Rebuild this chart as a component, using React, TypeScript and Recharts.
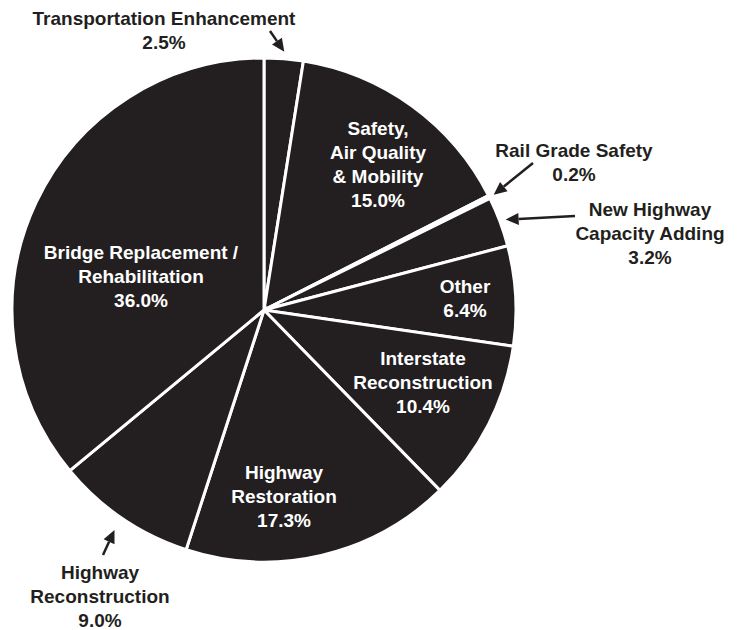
import { PieChart, Pie, Cell } from "recharts";

document.body.style.margin = "0";

const categories = [
  "Transportation Enhancement",
  "Safety, Air Quality & Mobility",
  "Rail Grade Safety",
  "New Highway Capacity Adding",
  "Other",
  "Interstate Reconstruction",
  "Highway Restoration",
  "Highway Reconstruction",
  "Bridge Replacement / Rehabilitation",
];

const shares = [2.5, 15.0, 0.2, 3.2, 6.4, 10.4, 17.3, 9.0, 36.0];

const labelLines = [
  ["Transportation Enhancement"],
  ["Safety,", "Air Quality", "& Mobility"],
  ["Rail Grade Safety"],
  ["New Highway", "Capacity Adding"],
  ["Other"],
  ["Interstate", "Reconstruction"],
  ["Highway", "Restoration"],
  ["Highway", "Reconstruction"],
  ["Bridge Replacement /", "Rehabilitation"],
];

const data = categories.map((name, i) => ({ name, value: shares[i] }));

const DARK = "#231f20";
const FONT = "'Liberation Sans', Arial, Helvetica, sans-serif";
const LINE_H = 24;

// text block position relative to pie centre; arrow tail offset + gap past the rim
type Layout = {
  dx: number;
  dy: number;
  inside: boolean;
  arrow?: { tx: number; ty: number; gap: number };
};

const layout: Layout[] = [
  { dx: -100, dy: -292, inside: false, arrow: { tx: 6, ty: -279, gap: 7 } },
  { dx: 114, dy: -182, inside: true },
  { dx: 310, dy: -160, inside: false, arrow: { tx: 269, ty: -147, gap: 5 } },
  { dx: 386, dy: -101, inside: false, arrow: { tx: 311, ty: -94, gap: 6 } },
  { dx: 201, dy: -24, inside: true },
  { dx: 159, dy: 48, inside: true },
  { dx: 20, dy: 162, inside: true },
  { dx: -164, dy: 262, inside: false, arrow: { tx: -161, ty: 245, gap: 14 } },
  { dx: -123, dy: -58, inside: true },
];

const RAD = Math.PI / 180;

function Arrow({ x1, y1, x2, y2 }: { x1: number; y1: number; x2: number; y2: number }) {
  const ang = Math.atan2(y2 - y1, x2 - x1);
  const len = 13;
  const half = 6;
  const bx = x2 - len * Math.cos(ang);
  const by = y2 - len * Math.sin(ang);
  const px = -Math.sin(ang) * half;
  const py = Math.cos(ang) * half;
  return (
    <g>
      <line x1={x1} y1={y1} x2={bx} y2={by} stroke={DARK} strokeWidth={2.5} />
      <polygon
        points={`${x2},${y2} ${bx + px},${by + py} ${bx - px},${by - py}`}
        fill={DARK}
      />
    </g>
  );
}

const renderLabel = (props: any) => {
  const { cx, cy, midAngle, outerRadius, index } = props;
  const cfg = layout[index];
  const lines = [...labelLines[index], `${shares[index].toFixed(1)}%`];
  const x = cx + cfg.dx;
  const y0 = cy + cfg.dy;
  let arrow = null;
  if (cfg.arrow) {
    const r = outerRadius + cfg.arrow.gap;
    const hx = cx + r * Math.cos(-midAngle * RAD);
    const hy = cy + r * Math.sin(-midAngle * RAD);
    arrow = <Arrow x1={cx + cfg.arrow.tx} y1={cy + cfg.arrow.ty} x2={hx} y2={hy} />;
  }
  return (
    <g key={`label-${index}`}>
      {arrow}
      <text
        x={x}
        y={y0}
        textAnchor="middle"
        dominantBaseline="central"
        fill={cfg.inside ? "#ffffff" : DARK}
        fontFamily={FONT}
        fontWeight="bold"
        fontSize={19}
      >
        {lines.map((ln, i) => (
          <tspan key={i} x={x} y={y0 + i * LINE_H}>
            {ln}
          </tspan>
        ))}
      </text>
    </g>
  );
};

export default function App() {
  return (
    <div style={{ width: 743, height: 630, background: "#fff" }}>
      <PieChart width={743} height={630} margin={{ top: 0, right: 0, bottom: 0, left: 0 }}>
        <Pie
          data={data}
          dataKey="value"
          nameKey="name"
          cx={264}
          cy={310}
          outerRadius={252}
          startAngle={90}
          endAngle={-270}
          stroke="#ffffff"
          strokeWidth={3}
          label={renderLabel}
          labelLine={false}
          isAnimationActive={false}
        >
          {data.map((d) => (
            <Cell key={d.name} fill={DARK} />
          ))}
        </Pie>
      </PieChart>
    </div>
  );
}
